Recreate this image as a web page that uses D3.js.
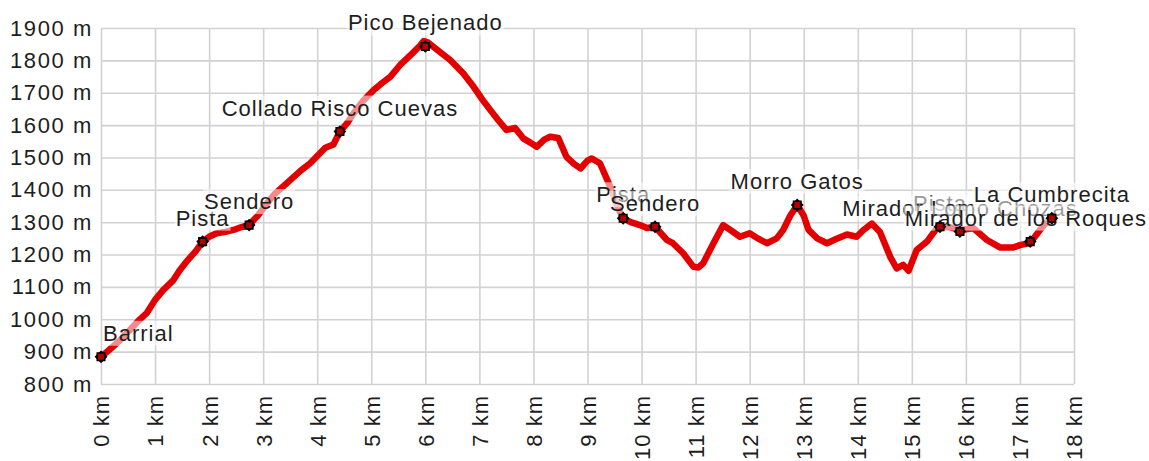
<!DOCTYPE html>
<html>
<head>
<meta charset="utf-8">
<script src="https://cdn.jsdelivr.net/npm/d3@7"></script>
<style>
  body { margin: 0; background: #fff; }
  text { font-family: "Liberation Sans", Arial, sans-serif; }
</style>
</head>
<body>
<div id="graph"></div>
<script>
const WIDTH = 1149;
const HEIGHT = 461;
const LEFT = 101;
const RIGHT = 1074;
const TOP = 28;
const BOTTOM = 384;

// elevation profile (km, m)
const distances = [
  0.00, 0.15, 0.35, 0.55, 0.72, 0.85, 1.00, 1.15, 1.34, 1.45, 1.58, 1.75, 1.88, 2.00, 2.14, 2.30,
  2.45, 2.60, 2.74, 2.90, 3.07, 3.20, 3.50, 3.70, 3.87, 4.05, 4.15, 4.30, 4.42, 4.55, 4.67, 4.85,
  5.04, 5.20, 5.35, 5.53, 5.75, 5.90, 5.97, 6.05, 6.20, 6.46, 6.70, 6.89, 7.05, 7.20, 7.35, 7.50,
  7.66, 7.81, 7.95, 8.06, 8.20, 8.31, 8.46, 8.61, 8.75, 8.87, 9.00, 9.08, 9.23, 9.42, 9.55, 9.66,
  9.80, 9.97, 10.10, 10.25, 10.47, 10.58, 10.77, 10.96, 11.05, 11.14, 11.33, 11.51, 11.65, 11.82,
  12.00, 12.15, 12.32, 12.50, 12.62, 12.75, 12.88, 13.00, 13.09, 13.25, 13.43, 13.60, 13.80, 13.98,
  14.10, 14.26, 14.41, 14.60, 14.72, 14.84, 14.94, 15.09, 15.28, 15.46, 15.65, 15.89, 16.14, 16.39,
  16.63, 16.88, 17.00, 17.19, 17.37, 17.50, 17.59
];
const elevations = [
  884, 905, 935, 970, 1000, 1020, 1060, 1090, 1121, 1150, 1178, 1210, 1240, 1255, 1266, 1270,
  1276, 1285, 1292, 1320, 1358, 1385, 1430, 1460, 1482, 1513, 1530, 1540, 1580, 1605, 1636, 1675,
  1708, 1730, 1749, 1785, 1820, 1845, 1860, 1855, 1835, 1801, 1760, 1719, 1680, 1647, 1615, 1585,
  1591, 1559, 1545, 1533, 1555, 1564, 1560, 1502, 1480, 1466, 1490, 1497, 1482, 1410, 1350, 1312,
  1300, 1291, 1282, 1286, 1245, 1235, 1204, 1162, 1160, 1173, 1235, 1291, 1275, 1255,
  1266, 1250, 1235, 1250, 1276, 1320, 1353, 1320, 1276, 1250, 1235, 1248, 1262, 1255,
  1275, 1296, 1270, 1193, 1157, 1168, 1150, 1214, 1240, 1281, 1286, 1276, 1281, 1245,
  1222, 1222, 1229, 1236, 1276, 1301, 1312
];

// waypoints
const wpNames = [
  "Barrial", "Pista", "Sendero", "Collado Risco Cuevas", "Pico Bejenado", "Pista", "Sendero",
  "Morro Gatos", "Pista", "Mirador Lomo Chozas", "Mirador de los Roques", "La Cumbrecita"
];
const wpKm = [0.0, 1.88, 2.74, 4.42, 6.0, 9.66, 10.25, 12.88, 15.52, 15.89, 17.19, 17.59];
const wpElev = [884, 1240, 1291, 1580, 1843, 1312, 1286, 1353, 1286, 1271, 1240, 1312];

const xTicks = d3.range(0, 19);
const yTicks = [800, 900, 1000, 1100, 1200, 1300, 1400, 1500, 1600, 1700, 1800, 1900];

const svg = d3.select("#graph")
  .append("svg")
  .attr("width", WIDTH)
  .attr("height", HEIGHT);

const x = d3.scaleLinear().domain([0, 18]).range([LEFT, RIGHT]);
const y = d3.scaleLinear().domain([800, 1900]).range([BOTTOM, TOP]);

// y axis + horizontal grid
const yAxis = svg.append("g")
  .attr("transform", `translate(${LEFT},0)`)
  .call(d3.axisLeft(y).tickValues(yTicks).tickSize(-(RIGHT - LEFT)).tickPadding(8)
    .tickFormat(d => d + " m"));

// x axis + vertical grid
const xAxis = svg.append("g")
  .attr("transform", `translate(0,${BOTTOM})`)
  .call(d3.axisBottom(x).tickValues(xTicks).tickSize(-(BOTTOM - TOP))
    .tickFormat(d => d + " km"));

svg.selectAll(".domain").remove();
svg.selectAll(".tick line")
  .attr("stroke", "#d2d2d2")
  .attr("stroke-width", 1.6);
svg.selectAll(".tick text")
  .attr("fill", "#1e1e1e")
  .style("font-size", "22px")
  .style("letter-spacing", "1px");

yAxis.selectAll(".tick text")
  .style("letter-spacing", "1.6px");

xAxis.selectAll(".tick text")
  .attr("text-anchor", "end")
  .attr("transform", "rotate(-90)")
  .attr("x", -11)
  .attr("y", 0)
  .attr("dy", "0.36em");

// profile line
const points = distances.map((d, i) => [d, elevations[i]]);
const line = d3.line()
  .x(d => x(d[0]))
  .y(d => y(d[1]));

svg.append("path")
  .datum(points)
  .attr("d", line)
  .attr("fill", "none")
  .attr("stroke", "#e30000")
  .attr("stroke-width", 6.5)
  .attr("stroke-linejoin", "round")
  .attr("stroke-linecap", "round");

// labels with half transparent background
const labels = svg.append("g");
wpNames.forEach((name, i) => {
  const g = labels.append("g");
  const rect = g.append("rect");
  const t = g.append("text")
    .attr("x", x(wpKm[i]))
    .attr("y", y(wpElev[i]) - 16)
    .attr("text-anchor", "middle")
    .attr("fill", "#1e1e1e")
    .style("font-size", "22px")
    .style("letter-spacing", "1px")
    .text(name);
  let b = t.node().getBBox();
  if (b.x < LEFT + 2) {
    t.attr("x", +t.attr("x") + (LEFT + 2 - b.x));
  } else if (b.x + b.width > WIDTH - 2) {
    t.attr("x", +t.attr("x") - (b.x + b.width - (WIDTH - 2)));
  }
  b = t.node().getBBox();
  rect.attr("x", b.x - 1)
    .attr("y", b.y)
    .attr("width", b.width + 2)
    .attr("height", b.height)
    .attr("fill", "#fff")
    .attr("fill-opacity", 0.55);
});

// markers
const markers = svg.append("g");
wpNames.forEach((name, i) => {
  const m = markers.append("g")
    .attr("transform", `translate(${x(wpKm[i])},${y(wpElev[i])})`);
  m.append("path")
    .attr("d", d3.symbol(d3.symbolSquare, 56)())
    .attr("transform", "rotate(45)")
    .attr("fill", "#b00000")
    .attr("stroke", "#000")
    .attr("stroke-width", 1.6);
  m.append("path")
    .attr("d", d3.symbol(d3.symbolSquare, 56)())
    .attr("fill", "#b00000")
    .attr("stroke", "#000")
    .attr("stroke-width", 1.6);
});
</script>
</body>
</html>
